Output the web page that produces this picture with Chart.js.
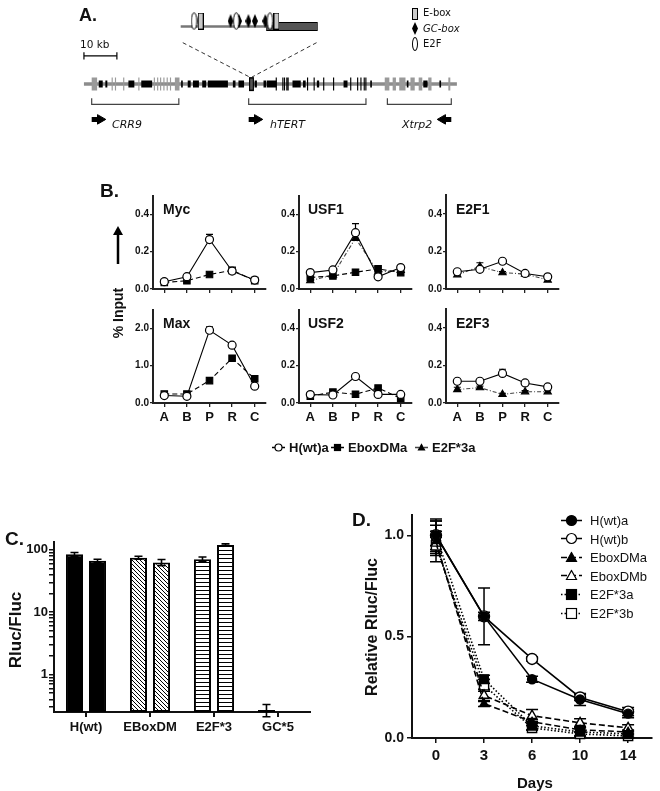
<!DOCTYPE html>
<html>
<head>
<meta charset="utf-8">
<script src="https://cdn.jsdelivr.net/npm/chart.js@4.4.0/dist/chart.umd.min.js"></script>
<style>
body { margin: 0; background: #fff; font-family: "Liberation Sans", Arial, sans-serif; color: #111; }
#wrap { position: relative; width: 660px; height: 791px; overflow: hidden; }
canvas { position: absolute; }
.t { position: absolute; white-space: nowrap; line-height: 1; transform: translateY(-50%); }
.b { font-weight: bold; }
.rot { position: absolute; white-space: nowrap; line-height: 1; font-weight: bold; transform: translate(-50%, -50%) rotate(-90deg); }
.dv { font-family: "DejaVu Sans", sans-serif; }
.leg { position: absolute; display: flex; align-items: center; line-height: 1; white-space: nowrap; transform: translateY(-50%); }
.leg svg { margin-right: 4px; }
</style>
</head>
<body>
<div id="wrap">
  <canvas id="cA" width="420" height="110" style="left:60px;top:30px"></canvas>
  <canvas id="cInset" width="160" height="35" style="left:170px;top:5px"></canvas>

  <div class="t b" style="left:79px;top:15px;font-size:18px">A.</div>
  <div style="position:absolute;left:412px;top:8px;width:4px;height:10px;background:#ccc;border:1px solid #000"></div>
  <div style="position:absolute;left:412px;top:22px;width:6px;height:13px;background:#000;clip-path:polygon(50% 0,100% 50%,50% 100%,0 50%)"></div>
  <div style="position:absolute;left:412px;top:37px;width:4px;height:12px;border:1px solid #000;border-radius:50%"></div>
  <div class="t dv" style="left:423px;top:13px;font-size:10px">E-box</div>
  <div class="t dv" style="left:423px;top:29px;font-size:10px;font-style:italic">GC-box</div>
  <div class="t dv" style="left:423px;top:44px;font-size:10px">E2F</div>
  <div class="t dv" style="left:80px;top:44px;font-size:10.5px">10 kb</div>
  <div class="t dv" style="left:112px;top:124px;font-size:11px;font-style:italic">CRR9</div>
  <div class="t dv" style="left:270px;top:124px;font-size:11px;font-style:italic">hTERT</div>
  <div class="t dv" style="left:402px;top:124px;font-size:11px;font-style:italic">Xtrp2</div>

  <canvas id="cMyc" width="154" height="107" style="left:118px;top:190px"></canvas>
  <canvas id="cUsf1" width="154" height="107" style="left:264px;top:190px"></canvas>
  <canvas id="cE2f1" width="154" height="107" style="left:411px;top:190px"></canvas>
  <canvas id="cMax" width="154" height="125" style="left:118px;top:304px"></canvas>
  <canvas id="cUsf2" width="154" height="125" style="left:264px;top:304px"></canvas>
  <canvas id="cE2f3" width="154" height="125" style="left:411px;top:304px"></canvas>

  <div class="t b" style="left:100px;top:190px;font-size:19px">B.</div>
  <div class="t b" style="left:163px;top:209px;font-size:14px">Myc</div>
  <div class="t b" style="left:308px;top:209px;font-size:14px">USF1</div>
  <div class="t b" style="left:456px;top:209px;font-size:14px">E2F1</div>
  <div class="t b" style="left:163px;top:323px;font-size:14px">Max</div>
  <div class="t b" style="left:308px;top:323px;font-size:14px">USF2</div>
  <div class="t b" style="left:456px;top:323px;font-size:14px">E2F3</div>
  <div class="rot" style="left:118px;top:313px;font-size:14px">% Input</div>
  <svg style="position:absolute;left:110px;top:226px" width="16" height="40">
    <line x1="8" y1="38" x2="8" y2="6" stroke="#000" stroke-width="2.5"/>
    <polygon points="8,0 13,9 3,9" fill="#000"/>
  </svg>
  <div id="legB"></div>

  <canvas id="cC" width="320" height="208" style="left:0px;top:532px"></canvas>
  <div class="t b" style="left:5px;top:538px;font-size:19px">C.</div>
  <div class="rot" style="left:15px;top:630px;font-size:17px">Rluc/Fluc</div>

  <canvas id="cD" width="309" height="286" style="left:351px;top:505px"></canvas>
  <div class="t b" style="left:352px;top:519px;font-size:19px">D.</div>
  <div class="rot" style="left:372px;top:627px;font-size:16px">Relative Rluc/Fluc</div>
  <div class="t b" style="left:517px;top:782px;font-size:15px">Days</div>
  <div id="legD"></div>
</div>

<script>
// ---- A: locus map, positions in kb ----
const locusEnd = 113.2;
const grayExons = [[2.35, 4.0], [27.6, 29.0], [91.3, 92.7], [93.7, 94.7], [95.7, 97.6],
  [99.1, 100.4], [101.6, 102.7], [104.5, 105.5], [110.6, 111.2]];
const grayThin = [8.4, 9.4, 11.9, 16.5, 21.2, 22.2, 23.1, 24.1, 25.1, 26.1];
const blackExons = [[4.5, 5.7], [6.5, 7.1], [13.5, 15.3], [17.4, 20.7], [29.5, 30.0], [31.5, 32.4],
  [33.1, 34.9], [35.9, 37.1], [37.6, 43.7], [45.2, 46.0], [46.9, 48.6], [51.8, 52.5], [54.5, 55.3],
  [55.5, 57.4], [57.4, 58.5], [63.3, 65.8], [66.5, 67.3], [70.7, 71.4], [78.8, 80.0], [86.9, 87.4],
  [98.0, 98.5], [103.0, 104.3], [107.9, 108.4]];
const blackThin = [58.2, 60.2, 60.7, 61.4, 61.8, 67.7, 69.7, 72.6, 75.6, 80.8, 82.9, 83.9, 84.9, 85.4];
const firstExon = [50.1, 51.6];
const geneStarts = [2.35, 50.0, 92.1];
const geneEnds = [28.8, 85.6, 111.5];
const geneDirs = [1, 1, -1];
const insetSpanKb = [30.0, 70.6];

// promoter inset, bp from TSS
const eboxPos = [-575, 90];
const gcboxPos = [-312, -238, -156, -99, -8];
const e2fPos = [-633, -263, 33];
const exon1 = [0, 452];

// ---- B: ChIP, % input ----
const sites = ['A', 'B', 'P', 'R', 'C'];
const mycWt = [0.039, 0.066, 0.265, 0.096, 0.048];
const mycWtErr = [0.004, 0.005, 0.028, 0.008, 0.004];
const mycEbox = [0.035, 0.044, 0.078, 0.100, 0.045];
const usf1Wt = [0.088, 0.102, 0.302, 0.065, 0.115];
const usf1WtErr = [0.006, 0.006, 0.048, 0.006, 0.006];
const usf1Ebox = [0.062, 0.070, 0.090, 0.108, 0.088];
const usf1E2f = [0.045, 0.075, 0.272, 0.090, 0.100];
const e2f1Wt = [0.092, 0.105, 0.148, 0.083, 0.065];
const e2f1E2f = [0.076, 0.120, 0.087, 0.080, 0.048];
const e2f1E2fErr = [0.005, 0.020, 0.006, 0.004, 0.006];
const maxWt = [0.20, 0.18, 1.95, 1.55, 0.45];
const maxWtErr = [0.03, 0.03, 0.09, 0.04, 0.03];
const maxEbox = [0.24, 0.24, 0.60, 1.20, 0.65];
const usf2Wt = [0.045, 0.043, 0.142, 0.046, 0.046];
const usf2Ebox = [0.037, 0.058, 0.047, 0.080, 0.025];
const e2f3Wt = [0.116, 0.116, 0.158, 0.107, 0.086];
const e2f3WtErr = [0.004, 0.004, 0.022, 0.004, 0.004];
const e2f3E2f = [0.072, 0.082, 0.046, 0.060, 0.060];
const e2f3E2fErr = [0.012, 0.008, 0.006, 0.006, 0.006];

// ---- C: reporter activity ----
const constructs = ['H(wt)', 'EBoxDM', 'E2F*3', 'GC*5'];
const rlucA = [85, 75, 71, 0.27];
const rlucAErr = [6, 4, 6, 0.06];
const rlucB = [67, 63, 120, null];
const rlucBErr = [4, 7, 5, 0];
const rlucTicks = [0.3, 0.4, 0.5, 0.6, 0.7, 0.8, 0.9, 1, 2, 3, 4, 5, 6, 7, 8, 9,
  10, 20, 30, 40, 50, 60, 70, 80, 90, 100];

// ---- D: decay ----
const days = ['0', '3', '6', '10', '14'];
const hwtA = [1.00, 0.60, 0.29, 0.19, 0.12];
const hwtAErr = [0.08, 0.14, 0.015, 0.03, 0.02];
const hwtB = [1.00, 0.60, 0.39, 0.20, 0.13];
const hwtBErr = [0.05, 0.02, 0.01, 0.015, 0.02];
const eboxA = [0.97, 0.17, 0.08, 0.04, 0.03];
const eboxAErr = [0.10, 0.015, 0.01, 0.01, 0.01];
const eboxB = [0.96, 0.21, 0.11, 0.075, 0.05];
const eboxBErr = [0.06, 0.03, 0.03, 0.02, 0.015];
const e2fA = [1.00, 0.29, 0.06, 0.03, 0.02];
const e2fAErr = [0.07, 0.02, 0.02, 0.02, 0.01];
const e2fB = [0.95, 0.26, 0.05, 0.02, 0.01];
const e2fBErr = [0.04, 0.03, 0.01, 0.01, 0.01];

const FONT = '"Liberation Sans", Arial, sans-serif';
Chart.defaults.font.family = FONT;
Chart.defaults.color = '#111';
Chart.defaults.animation = false;
Chart.defaults.responsive = false;
Chart.defaults.plugins.legend.display = false;
Chart.defaults.plugins.tooltip.enabled = false;

// error bars from dataset.errUp; both=true draws down too
function drawErrors(chart, opts) {
  const ctx = chart.ctx;
  chart.data.datasets.forEach((ds, i) => {
    if (!ds.errUp) return;
    const meta = chart.getDatasetMeta(i);
    const ys = chart.scales[meta.yAxisID];
    meta.data.forEach((el, j) => {
      const v = ds.data[j], e = ds.errUp[j];
      if (v == null || !e) return;
      const top = ys.getPixelForValue(v + e);
      const bot = ds.both ? ys.getPixelForValue(v - e) : ys.getPixelForValue(v);
      const cap = opts.cap || 4;
      ctx.save();
      ctx.strokeStyle = '#000';
      ctx.lineWidth = opts.width || 1.3;
      ctx.beginPath();
      ctx.moveTo(el.x, bot); ctx.lineTo(el.x, top);
      ctx.moveTo(el.x - cap, top); ctx.lineTo(el.x + cap, top);
      if (ds.both) { ctx.moveTo(el.x - cap, bot); ctx.lineTo(el.x + cap, bot); }
      ctx.stroke();
      ctx.restore();
    });
  });
}
const errorBars = {
  id: 'errorBars',
  beforeDatasetsDraw(chart, args, opts) { if (!opts.after) drawErrors(chart, opts); },
  afterDatasetsDraw(chart, args, opts) { if (opts.after) drawErrors(chart, opts); }
};
Chart.register(errorBars);

function fixW(w) { return s => { s.width = w; s.paddingTop = s.paddingBottom = s.paddingLeft = s.paddingRight = 0; }; }
function fixH(h) { return s => { s.height = h; s.paddingTop = s.paddingBottom = s.paddingLeft = s.paddingRight = 0; }; }

// ---------- panel A ----------
const trackY = 54, barY = 22, bracketTop = 70, bracketBot = 77, arrowY = 94, zoomTop = 7, zoomBot = 46;

function segData(list, y) {
  const out = [];
  list.forEach(([a, b]) => { out.push({ x: a, y }, { x: b, y }, { x: b, y: null }); });
  return out;
}
function segSet(data, color, width, extra) {
  return Object.assign({ data, showLine: true, borderColor: color, borderWidth: width,
    borderCapStyle: 'butt', pointRadius: 0, clip: false, spanGaps: false }, extra || {});
}
const thin = p => [p, p + 0.35];

const bracketData = [];
geneStarts.forEach((s, i) => {
  const e = geneEnds[i];
  bracketData.push({ x: s, y: bracketTop }, { x: s, y: bracketBot }, { x: e, y: bracketBot },
    { x: e, y: bracketTop }, { x: e, y: null });
});
const arrowBodies = [], arrowHeads = [], arrowRot = [];
geneStarts.forEach((s, i) => {
  const d = geneDirs[i];
  const tail = d > 0 ? s : geneEnds[i];
  arrowBodies.push([Math.min(tail, tail + 2.2 * d), Math.max(tail, tail + 2.2 * d)]);
  arrowHeads.push({ x: tail + 2.6 * d, y: arrowY });
  arrowRot.push(d > 0 ? 90 : -90);
});

// back to front
const aSets = [
  segSet([{ x: insetSpanKb[0], y: zoomTop }, { x: firstExon[0] + 0.2, y: zoomBot }, { x: 0, y: null },
    { x: insetSpanKb[1], y: zoomTop }, { x: firstExon[0] + 0.9, y: zoomBot }], '#333', 1, { borderDash: [4, 3] }),
  segSet(segData([[0, locusEnd]], trackY), '#8c8c8c', 3.5),
  segSet(segData(grayExons.concat(grayThin.map(thin)), trackY), '#9a9a9a', 13),
  segSet(segData(blackExons, trackY), '#000', 7),
  segSet(segData(blackThin.map(thin), trackY), '#000', 13),
  segSet(segData([firstExon], trackY), '#000', 14),
  segSet(segData([[firstExon[0] + 0.35, firstExon[1] - 0.35]], trackY), '#555', 11),
  segSet(bracketData, '#444', 1.2),
  segSet(segData([[0, 10]], barY), '#000', 1.2),
  segSet([{ x: 0, y: barY - 4 }, { x: 0, y: barY + 4 }, { x: 0, y: null },
    { x: 10, y: barY - 4 }, { x: 10, y: barY + 4 }], '#000', 1.2),
  segSet(segData(arrowBodies, arrowY), '#000', 5),
  { data: arrowHeads, pointStyle: 'triangle', rotation: arrowRot, pointRadius: 5.5,
    pointBackgroundColor: '#000', pointBorderColor: '#000', showLine: false, clip: false }
].reverse();

new Chart('cA', {
  type: 'scatter',
  data: { datasets: aSets },
  options: {
    layout: { padding: 0 },
    scales: {
      x: { type: 'linear', display: false, min: -5.294, max: 118.24 },
      y: { display: false, min: 0, max: 110, reverse: true }
    }
  }
});

function glyph(w, h, draw) {
  const c = document.createElement('canvas');
  c.width = w; c.height = h;
  draw(c.getContext('2d'), w, h);
  return c;
}
const ovalImg = glyph(7, 18, (g, w, h) => {
  g.beginPath(); g.ellipse(w / 2, h / 2, w / 2 - 0.7, h / 2 - 0.7, 0, 0, 2 * Math.PI);
  g.fillStyle = '#fff'; g.fill(); g.lineWidth = 1; g.strokeStyle = '#000'; g.stroke();
});
const eboxImg = glyph(6, 17, (g, w, h) => {
  g.fillStyle = '#c8c8c8'; g.fillRect(0.5, 0.5, w - 1, h - 1);
  g.strokeStyle = '#000'; g.lineWidth = 1; g.strokeRect(0.5, 0.5, w - 1, h - 1);
});
const gcImg = glyph(6, 14, (g, w, h) => {
  g.beginPath(); g.moveTo(w / 2, 0); g.lineTo(w, h / 2); g.lineTo(w / 2, h); g.lineTo(0, h / 2);
  g.closePath(); g.fillStyle = '#000'; g.fill();
});

const lineY = 23, symY = 15.5;
const insetSets = [
  segSet(segData([[-750, 0]], lineY), '#777', 2.5),
  segSet(segData([exon1], lineY), '#000', 9),
  segSet(segData([[exon1[0] + 3, exon1[1] - 3]], lineY), '#555', 7),
  { data: gcboxPos.map(x => ({ x, y: symY })), pointStyle: gcImg, pointRadius: 3, showLine: false, clip: false },
  { data: e2fPos.map(x => ({ x, y: symY })), pointStyle: ovalImg, pointRadius: 3, showLine: false, clip: false },
  { data: eboxPos.map(x => ({ x, y: symY })), pointStyle: eboxImg, pointRadius: 3, showLine: false, clip: false }
].reverse();

new Chart('cInset', {
  type: 'scatter',
  data: { datasets: insetSets },
  options: {
    layout: { padding: 0 },
    scales: {
      x: { type: 'linear', display: false, min: -800, max: 516 },
      y: { display: false, min: 0, max: 35, reverse: true }
    }
  }
});

// ---------- panel B ----------
const wtStyle = { label: 'H(wt)a', borderColor: '#000', borderWidth: 1.1, pointStyle: 'circle', pointRadius: 4,
  pointBackgroundColor: '#fff', pointBorderColor: '#000', pointBorderWidth: 1.2 };
const eboxStyle = { label: 'EboxDMa', borderColor: '#000', borderWidth: 1.1, borderDash: [5, 3], pointStyle: 'rect',
  pointRadius: 4.6, pointBackgroundColor: '#000', pointBorderColor: '#000' };
const e2fStyle = { label: 'E2F*3a', borderColor: '#444', borderWidth: 1.1, borderDash: [4, 2, 1, 2], pointStyle: 'triangle',
  pointRadius: 4.2, pointBackgroundColor: '#000', pointBorderColor: '#000' };

function series(style, data, err) {
  return Object.assign({}, style, { data, errUp: err, clip: false, tension: 0 });
}

function chipChart(id, yMax, step, sets, bottomRow) {
  return new Chart(id, {
    type: 'line',
    data: { labels: sites, datasets: sets },
    options: {
      layout: { padding: { top: 5, right: 6, left: 0, bottom: 0 } },
      plugins: { errorBars: { cap: 3.5, width: 1.2 } },
      scales: {
        x: {
          offset: true,
          grid: { drawOnChartArea: false, drawTicks: true, tickLength: 4, color: '#222', lineWidth: 1.3, offset: false },
          border: { color: '#222', width: 2 },
          ticks: { display: bottomRow, font: { weight: 'bold', size: 13 }, color: '#111', padding: 3, maxRotation: 0 },
          afterFit: fixH(bottomRow ? 26 : 8)
        },
        y: {
          min: 0, max: yMax,
          grid: { drawOnChartArea: false, drawTicks: true, tickLength: 3, color: '#222', lineWidth: 1.3 },
          border: { color: '#222', width: 2 },
          ticks: { stepSize: step, includeBounds: false, callback: v => v.toFixed(1),
            font: { weight: 'bold', size: 10 }, color: '#111', padding: 1 },
          afterFit: fixW(35)
        }
      }
    }
  });
}

chipChart('cMyc', 0.5, 0.2, [series(wtStyle, mycWt, mycWtErr), series(eboxStyle, mycEbox)], false);
chipChart('cUsf1', 0.5, 0.2, [series(wtStyle, usf1Wt, usf1WtErr), series(eboxStyle, usf1Ebox),
  series(e2fStyle, usf1E2f)], false);
chipChart('cE2f1', 0.5, 0.2, [series(wtStyle, e2f1Wt), series(e2fStyle, e2f1E2f, e2f1E2fErr)], false);
chipChart('cMax', 2.5, 1.0, [series(wtStyle, maxWt, maxWtErr), series(eboxStyle, maxEbox)], true);
chipChart('cUsf2', 0.5, 0.2, [series(wtStyle, usf2Wt), series(eboxStyle, usf2Ebox)], true);
chipChart('cE2f3', 0.5, 0.2, [series(wtStyle, e2f3Wt, e2f3WtErr), series(e2fStyle, e2f3E2f, e2f3E2fErr)], true);

// svg sample for legends
function sample(w, h, st, r) {
  const dash = st.borderDash ? st.borderDash.join(',') : '';
  const cx = w / 2, cy = h / 2;
  let mark;
  const fill = st.pointBackgroundColor;
  if (st.pointStyle === 'circle') {
    mark = `<circle cx="${cx}" cy="${cy}" r="${r}" fill="${fill}" stroke="#000" stroke-width="1.2"/>`;
  } else if (st.pointStyle === 'rect') {
    mark = `<rect x="${cx - r}" y="${cy - r}" width="${2 * r}" height="${2 * r}" fill="${fill}" stroke="#000" stroke-width="1.2"/>`;
  } else {
    mark = `<polygon points="${cx},${cy - r} ${cx + r},${cy + r * 0.8} ${cx - r},${cy + r * 0.8}" fill="${fill}" stroke="#000" stroke-width="1.2"/>`;
  }
  return `<svg width="${w}" height="${h}"><line x1="0" y1="${cy}" x2="${w}" y2="${cy}" stroke="${st.borderColor}" stroke-width="1.5" stroke-dasharray="${dash}"/>${mark}</svg>`;
}

const legB = document.getElementById('legB');
[[wtStyle, 272, 3.5], [eboxStyle, 331, 3], [e2fStyle, 415, 3]].forEach(([st, x, r]) => {
  const d = document.createElement('div');
  d.className = 'leg';
  d.style.left = x + 'px'; d.style.top = '447px'; d.style.fontSize = '13px'; d.style.fontWeight = 'bold';
  d.innerHTML = sample(13, 10, st, r) + st.label;
  legB.appendChild(d);
});

// ---------- panel C ----------
function pattern(draw) {
  const c = document.createElement('canvas');
  c.width = 4; c.height = 4;
  const g = c.getContext('2d');
  g.fillStyle = '#fff'; g.fillRect(0, 0, 4, 4);
  g.strokeStyle = '#000'; g.lineWidth = 1;
  draw(g);
  return document.getElementById('cC').getContext('2d').createPattern(c, 'repeat');
}
const diagFill = pattern(g => {
  g.beginPath(); g.moveTo(-1, -1); g.lineTo(5, 5); g.moveTo(-1, 3); g.lineTo(1, 5); g.moveTo(3, -1); g.lineTo(5, 1); g.stroke();
});
const horizFill = pattern(g => { g.beginPath(); g.moveTo(0, 2.5); g.lineTo(4, 2.5); g.stroke(); });
const barFills = ['#000', diagFill, horizFill, '#fff'];

function barSet(data, err) {
  return { data, errUp: err, both: true, backgroundColor: barFills, borderColor: '#000', borderWidth: 2,
    borderSkipped: false, categoryPercentage: 0.72, barPercentage: 0.74 };
}

new Chart('cC', {
  type: 'bar',
  data: { labels: constructs, datasets: [barSet(rlucA, rlucAErr), barSet(rlucB, rlucBErr)] },
  options: {
    layout: { padding: { top: 10, right: 10, left: 0, bottom: 0 } },
    plugins: { errorBars: { cap: 4, width: 1.6, after: true } },
    scales: {
      x: {
        grid: { drawOnChartArea: false, tickLength: 5, color: '#111', lineWidth: 2, offset: false },
        border: { color: '#111', width: 2 },
        ticks: { font: { weight: 'bold', size: 13 }, color: '#111', padding: 3, maxRotation: 0 },
        afterFit: fixH(28)
      },
      y: {
        type: 'logarithmic', min: 0.25, max: 134,
        grid: { drawOnChartArea: false, tickLength: 5, color: '#111', lineWidth: 1.5 },
        border: { color: '#111', width: 2 },
        afterBuildTicks: s => { s.ticks = rlucTicks.map(v => ({ value: v, major: [1, 10, 100].includes(v) })); },
        ticks: { callback: v => ([1, 10, 100].includes(v) ? String(v) : ''),
          font: { weight: 'bold', size: 13 }, color: '#111', padding: 1, autoSkip: false },
        afterFit: fixW(54)
      }
    }
  }
});

// ---------- panel D ----------
const dStyles = [
  { label: 'H(wt)a', pointStyle: 'circle', pointRadius: 4.5, pointBackgroundColor: '#000', borderDash: [] },
  { label: 'H(wt)b', pointStyle: 'circle', pointRadius: 5.5, pointBackgroundColor: '#fff', borderDash: [] },
  { label: 'EboxDMa', pointStyle: 'triangle', pointRadius: 4.5, pointBackgroundColor: '#000', borderDash: [6, 3] },
  { label: 'EboxDMb', pointStyle: 'triangle', pointRadius: 5.5, pointBackgroundColor: '#fff', borderDash: [6, 3] },
  { label: 'E2F*3a', pointStyle: 'rect', pointRadius: 6, pointBackgroundColor: '#000', borderDash: [1.5, 2] },
  { label: 'E2F*3b', pointStyle: 'rect', pointRadius: 6.5, pointBackgroundColor: '#fff', borderDash: [1.5, 2] }
].map(s => Object.assign({ borderColor: '#000', borderWidth: 1.6, pointBorderColor: '#000', pointBorderWidth: 1.4 }, s));
const dData = [[hwtA, hwtAErr], [hwtB, hwtBErr], [eboxA, eboxAErr], [eboxB, eboxBErr], [e2fA, e2fAErr], [e2fB, e2fBErr]];

new Chart('cD', {
  type: 'line',
  data: {
    labels: days,
    datasets: dStyles.map((st, i) => Object.assign({}, st, { data: dData[i][0], errUp: dData[i][1], both: true, clip: false }))
  },
  options: {
    layout: { padding: { top: 10, right: 5, left: 0, bottom: 0 } },
    plugins: { errorBars: { cap: 6, width: 1.5 } },
    scales: {
      x: {
        offset: true,
        grid: { drawOnChartArea: false, tickLength: 5, color: '#111', lineWidth: 1.5, offset: false },
        border: { color: '#111', width: 2 },
        ticks: { font: { weight: 'bold', size: 15 }, color: '#111', padding: 4, maxRotation: 0 },
        afterFit: fixH(53)
      },
      y: {
        min: 0, max: 1.1,
        grid: { drawOnChartArea: false, tickLength: 5, color: '#111', lineWidth: 1.5 },
        border: { color: '#111', width: 2 },
        ticks: { stepSize: 0.5, includeBounds: false, callback: v => v.toFixed(1),
          font: { weight: 'bold', size: 14 }, color: '#111', padding: 3 },
        afterFit: fixW(61)
      }
    }
  }
});

const legD = document.getElementById('legD');
dStyles.forEach((st, i) => {
  const d = document.createElement('div');
  d.className = 'leg';
  d.style.left = '561px'; d.style.top = (520 + i * 18.6) + 'px'; d.style.fontSize = '13px';
  d.innerHTML = sample(21, 12, st, 5).replace('<svg', '<svg style="margin-right:8px"') + st.label;
  legD.appendChild(d);
});
</script>
</body>
</html>
